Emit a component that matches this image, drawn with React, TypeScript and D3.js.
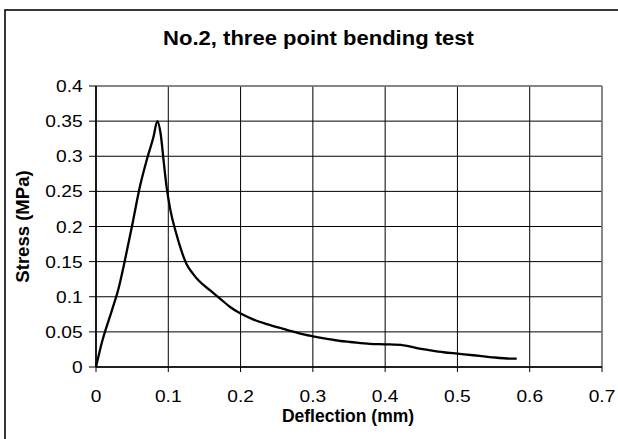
import React from 'react';
import * as d3 from 'd3';

// deflection (mm) and stress (MPa)
const deflection = [
  0, 0.0083, 0.022, 0.031, 0.040, 0.0495, 0.061, 0.070, 0.0794, 0.0849,
  0.0894, 0.094, 0.0977, 0.103, 0.111, 0.118, 0.125, 0.134, 0.142, 0.158,
  0.172, 0.186, 0.200, 0.218, 0.2365, 0.255, 0.264, 0.2826, 0.300, 0.3195,
  0.338, 0.352, 0.379, 0.400, 0.4255, 0.444, 0.4625, 0.481, 0.500, 0.522,
  0.545, 0.573, 0.582,
];
const stress = [
  0, 0.0355, 0.0806, 0.111, 0.152, 0.199, 0.258, 0.294, 0.327, 0.350,
  0.332, 0.289, 0.256, 0.223, 0.190, 0.166, 0.147, 0.133, 0.123, 0.109,
  0.097, 0.085, 0.076, 0.0675, 0.061, 0.0555, 0.053, 0.0475, 0.0437, 0.040,
  0.037, 0.0356, 0.033, 0.0323, 0.0309, 0.027, 0.0238, 0.021, 0.019, 0.0167,
  0.0142, 0.012, 0.012,
];
const xTicks = [0, 0.1, 0.2, 0.3, 0.4, 0.5, 0.6, 0.7];
const yTicks = [0, 0.05, 0.1, 0.15, 0.2, 0.25, 0.3, 0.35, 0.4];

const title = 'No.2, three point bending test';
const xTitle = 'Deflection (mm)';
const yTitle = 'Stress (MPa)';

const W = 618;
const H = 439;
const font = '"Liberation Sans", Arial, Helvetica, sans-serif';

// the fonts in the original are a little stretched sideways
const sx = 1.13;

const App = () => {
  const left = 96, right = 602, top = 86, bottom = 367;

  const x = d3.scaleLinear().domain([0, 0.7]).range([left, right]);
  const y = d3.scaleLinear().domain([0, 0.4]).range([bottom, top]);

  const points: [number, number][] = deflection.map((d, i) => [d, stress[i]]);
  const line = d3
    .line<[number, number]>()
    .x(d => x(d[0]))
    .y(d => y(d[1]))
    .curve(d3.curveMonotoneX);

  const fmt = (v: number) => String(+v.toFixed(2));

  return (
    <svg
      width={W}
      height={H}
      style={{ position: 'absolute', left: 0, top: 0, background: '#fff' }}
      fontFamily={font}
    >
      <rect x={0} y={0} width={W} height={H} fill="#fff" />
      {/* chart area frame, runs off the right and bottom */}
      <rect x={5} y={10} width={W + 20} height={H + 20} fill="none" stroke="#222" strokeWidth={1.8} />

      <text
        transform={`translate(${318.5},${45}) scale(${sx},1)`}
        textAnchor="middle"
        fontSize={19.5}
        fontWeight="bold"
      >
        {title}
      </text>

      {/* grid */}
      {yTicks.map(t => (
        <line key={'gy' + t} x1={left} x2={right} y1={y(t)} y2={y(t)} stroke="#000" strokeWidth={1} />
      ))}
      {xTicks.map(t => (
        <line key={'gx' + t} x1={x(t)} x2={x(t)} y1={top} y2={bottom} stroke="#000" strokeWidth={1} />
      ))}
      <line x1={left} x2={right} y1={top} y2={top} stroke="#888" strokeWidth={1.5} />
      <line x1={right} x2={right} y1={top} y2={bottom} stroke="#888" strokeWidth={1.5} />

      {/* axes */}
      <line x1={left} x2={left} y1={top} y2={bottom} stroke="#000" strokeWidth={1.6} />
      <line x1={left} x2={right} y1={bottom} y2={bottom} stroke="#000" strokeWidth={1.6} />
      {yTicks.map(t => (
        <g key={'ty' + t}>
          <line x1={left - 7} x2={left} y1={y(t)} y2={y(t)} stroke="#000" />
          <text
            transform={`translate(${82.7},${y(t) + 6}) scale(${sx},1)`}
            textAnchor="end"
            fontSize={17}
          >
            {fmt(t)}
          </text>
        </g>
      ))}
      {xTicks.map(t => (
        <g key={'tx' + t}>
          <line x1={x(t)} x2={x(t)} y1={bottom} y2={bottom + 5} stroke="#000" />
          <text
            transform={`translate(${x(t)},${402.3}) scale(${sx},1)`}
            textAnchor="middle"
            fontSize={17}
          >
            {fmt(t)}
          </text>
        </g>
      ))}

      <text x={348} y={422} textAnchor="middle" fontSize={17.5} fontWeight="bold">
        {xTitle}
      </text>
      <text
        transform={`translate(${29},${(top + bottom) / 2}) rotate(-90) scale(1.06,1)`}
        textAnchor="middle"
        fontSize={17.5}
        fontWeight="bold"
      >
        {yTitle}
      </text>

      <path d={line(points) ?? ''} fill="none" stroke="#000" strokeWidth={2.3} strokeLinejoin="round" />
    </svg>
  );
};

export default App;
